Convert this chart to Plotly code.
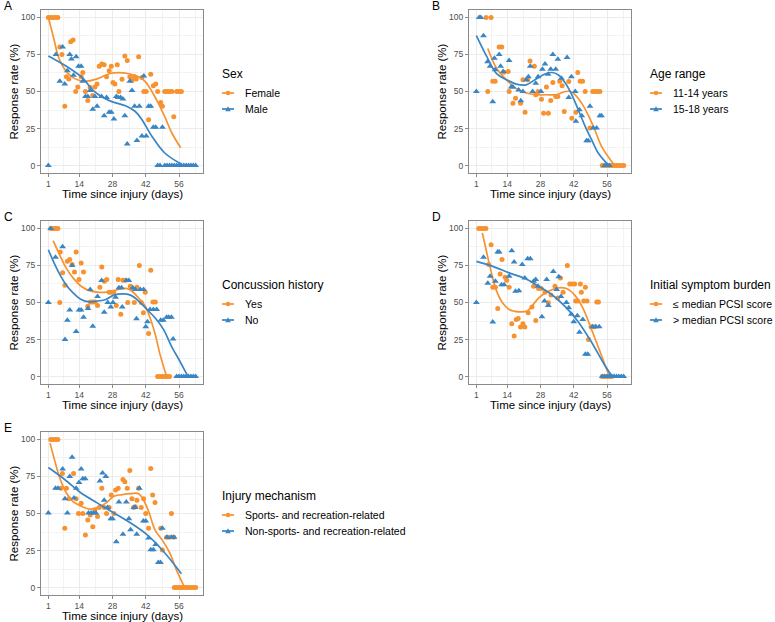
import plotly.graph_objects as go

W, H = 775, 622
ORANGE = '#F7922F'
BLUE = '#3A85C4'
FONT = 'Liberation Sans, Arial, sans-serif'

# ---------------- Panel A: Sex ----------------
a_female_day = [1,2,3,4,5,5.8,6.7,7.9,8.6,9.6,10.4,11.4,12.5,13.4,14.8,15.5,16.6,17.6,18.6,19.7,20.6,21.5,22.4,23.5,24.5,25.5,26.6,27.5,28.2,29,30,30.7,32,33.2,34.2,35.3,36.2,37.3,38,39,40.4,41.2,42.2,43.2,44.1,45.2,46.2,47,48.3,49,50,51,52,53,53.8,55,56,57]
a_female_rate = [100,100,100,100,100,80,75,40,60,58.5,83.6,84.7,50,53,60,62.8,50,44,52.7,47.3,53,55,67,68.6,68,60,64,67,56,55,68,50,58.3,74,71,60,57.4,60,58.5,73.5,59.4,50,50,31,61.7,53.8,55,50,42.6,40,50,50,50,50,33,50,50,50]
a_male_day = [1,4.2,5.8,7,7.9,9,10,10.7,11.6,12.7,13.7,14.8,15.5,16.6,17.6,18.6,19.7,20.6,21.5,23.4,24.5,25.5,26.6,27.5,28.6,29.6,30.4,31.4,32.4,33.2,34.2,35.3,36.2,37.3,38.3,39.3,40.4,41.2,42.2,43.2,44.1,45.2,46.2,47,48,49,50,51,52,53,54,55,56,57,58,59,60,61,62,63]
a_male_rate = [0,75,57,80,55,64,75,72,61,73.5,67,67,57,46.6,46.6,50.7,38,46.6,40,46.6,33.6,46,36,36,31.4,46.6,46,46,45,33.6,14.6,57,50.7,40,17,40,20,60.5,20,40,40,25.8,25.8,0,0,25.8,0,0,0,0,0,0,0,0,0,0,0,0,0,0]
a_female_fit_day = [1,3.1,5.8,10,14.1,18.3,22.4,26.6,30.7,34.9,39,41.8,44.6,47.3,50,53,56.7]
a_female_fit_rate = [100,87,71,61,57.4,57.2,59,62,62.8,62,60,56.7,50,42,33,22,12]
a_male_fit_day = [1,8.6,15.5,19.7,24,28,33.5,37.6,40.4,44.5,50,57]
a_male_fit_rate = [74,67,59,51,46,43,40.4,36.5,31,20,8.5,1]

# ---------------- Panel B: Age range ----------------
b_young_day = [5.1,5.8,7.2,7.9,8.9,10.6,11.7,12.6,14.4,14.8,16.4,17.5,19.6,20.6,21.5,22.6,23.6,25.4,26,27,28.4,29.3,30.5,31.3,32.3,33.2,34.4,35.3,36.1,37.1,38,39.9,41.2,42.9,43.7,44.7,45.7,46.8,48.8,50,51,52,53,54,55,56,57,58,59,60,61,62,63]
b_young_rate = [100,50,100,57,57,80,80,63,63.5,50,42,45.5,42,58,36,58,70.6,67,47.8,50,44.8,35.4,53,35.4,44,56,46.6,46.6,57,53.8,36.5,56.7,32,36,62.8,57,57,50,25.3,50,50,50,50,0,0,0,0,0,0,0,0,0,0]
b_old_day = [1,2.2,2.9,4,5.7,6.8,7.9,8.6,8.9,10.6,11.2,12.3,14.8,15.7,16.4,18.8,19.7,20.6,22,22.9,23.7,24.7,26,27,28.2,28.8,29.9,31.2,32.3,33.2,34.4,35.3,36.8,39.2,39.9,41,42.6,42.9,44.4,45.4,47.4,48.1,48.8,50.2,51.6,53,53.7,55,56,57]
b_old_rate = [50,100,100,87.7,70,67,43,72.4,64.6,75,67,63.5,71,53,53,51,43.7,50,58,60,67,50,55.6,60,50,65,68.6,61.7,65,75,65,71.7,59,73,46,60,50,30,37.7,33.6,16.8,16.8,40,25.3,25.3,33.6,33.6,0,0,0]
b_young_fit_day = [5.8,9.5,13.7,17.8,22,26,30.2,34.4,38.5,40.6,42.6,45.4,48.1,50.9,53.7,59.2]
b_young_fit_rate = [79,65.7,57.8,52,49,47.8,47.8,47.8,50,50,47.8,42,34,24,13,0]
b_old_fit_day = [1,5.4,9.5,13.7,17.8,22,26,30.2,33,35.7,38.5,41.2,43.9,46.8,49.5,52.3,56.8]
b_old_fit_rate = [87.7,73.5,62,58,55,54.5,58.3,62,62.8,61,55.6,47.8,37.7,26.5,17.5,8.5,0]

# ---------------- Panel C: Concussion history ----------------
c_yes_day = [2,3,4,5,5.8,6,7,8,9,10,11,12,12.7,13.9,14.8,15.8,17.6,18.7,19.7,20.6,21.7,22.7,23.5,24.6,25.6,26.6,27.7,28.5,29.6,30.4,31.5,32.4,33.5,34.4,35.5,36.2,37.2,38.3,39.3,40.1,41,41.8,43.2,44.1,45,46,47,48,49,50,51,52]
c_yes_rate = [100,100,100,100,50,84,70,61.7,77.8,79,75.6,70.6,84,65.5,76.7,70.6,47.5,50.4,50.4,50.4,48,60.3,74,64.3,65.5,57,57,57,48,65.5,42,65,65,50,61,60,50,60.3,75,50,43,57,29,71.7,50.4,50.4,0,0,0,0,0,0]
c_no_day = [1,2,4,7,8,9,10,11,12.7,13.9,14.8,15.8,17.7,18.6,19.7,21.7,23.4,24.5,26,27.3,28.2,29.3,30.7,31.8,32.1,33.8,34.9,36.5,37.6,38.1,39.7,41.1,42,42.7,43.8,45.2,46.6,48.3,49.4,50.8,51.7,52.8,53.5,55,56,57,58,59,60,61,62,63]
c_no_rate = [50,100,80.5,87.7,25,38,45,75,30.5,45,45,40,46,58.7,34,54,64.8,43.5,50,47,50,53.6,60,60,47,64.8,64.8,60,58.7,39,58.7,58.7,33.6,37,45.3,45.3,45.3,38,38,40,40,40,25.3,0,0,0,0,0,0,0,0,0]
c_yes_fit_day = [3,5.8,8.6,11.4,14.8,18.3,21.7,25.2,28.6,32.1,34.2,36.2,39,41.8,43.8,46,48,50.8]
c_yes_fit_rate = [91.7,82,73,66.6,61,58,57,57,58,59.4,59.4,57.6,53,47.5,39.7,28.5,15,0]
c_no_fit_day = [1,4.5,8,11.4,14.8,18.3,21.7,25.2,28.6,32.1,35.6,39,42.5,45.9,49.4,52.8,56.3,59.5]
c_no_fit_rate = [85.6,73,63,56.5,52,50.4,51,52,55,55.8,55,51,45.3,39.7,32,20.6,10.5,1]

# ---------------- Panel D: Initial symptom burden ----------------
d_low_day = [2,3,4,5,6.2,7.2,7.9,9,10,11,11.8,13.1,13.8,14.8,15.9,16.9,17.8,18.6,19.6,20.6,21.4,22.8,24.4,25.1,26,27.2,28.3,29.9,31.3,32.4,34.1,35.2,36.4,37.5,39.3,40.3,41.2,42.4,42.8,43.7,44.8,45.2,46.2,46.9,47.6,48.2,49.3,50.7,51.7,52.4,54,55,56,57,58]
d_low_rate = [100,100,100,100,75.6,89,60.3,60.3,46,69.3,79,67,65,60.3,35.7,27.4,38.6,39.2,33.4,35.6,33.4,43,46.9,61,37.9,59.4,59.4,57,49.8,55,61,53,66.6,57,75,62.5,62.5,62.5,51,51,62.5,57,51,60.3,51,25,33.6,33.6,50.4,50.4,0,0,0,0,0]
d_high_day = [1,4,5.8,6.8,7.9,9,10,10.6,11.6,12.7,14.8,15.9,16.9,17.5,18.9,20.3,21.4,22.6,23.7,25.1,26,27,28.6,29.7,30.6,31.3,33.4,34.8,35.7,36.6,38.9,39.9,41,42,43.5,44.4,45.8,46.9,47.9,49.9,51.3,52.7,54,55,56,57,58,59,60,61,62,63]
d_high_rate = [50,80.5,63,67.7,36.8,64.3,84,84,62,62,67.7,85,77.4,57.6,58,75.6,66.6,79.6,79.6,64.3,65.5,61,40.4,51,65.5,48,71,58.7,67.3,54,50,46.4,42,37,41,30,38.6,15,15,33.6,33.6,33.6,0,0,0,0,0,0,0,0,0,0]
d_low_fit_day = [3.5,5.1,7.2,9.3,12,14.8,18.9,22.4,24.4,27.2,31.3,35.5,38.9,42.4,45.8,49.2,52.7,56.1,57]
d_low_fit_rate = [97,85.6,71,58.7,49.8,45.3,43.7,44.2,47.5,53,57.6,59.9,59.4,55,46.4,33,18.4,3.8,0]
d_high_fit_day = [1,7.9,14.8,21.7,27.2,32.7,38.2,43.7,49.2,54.8,58.2]
d_high_fit_rate = [77.8,74.4,70,66,61,55.4,47.5,37.4,24,8.3,0]

# ---------------- Panel E: Injury mechanism ----------------
e_sport_day = [2,3,4,5,6.3,6.9,7.9,8.6,9.7,11.6,12.7,13.7,14.8,15.5,16.6,17.6,18.6,19.7,20.6,21.7,22.4,23.5,24.5,25.5,26.6,27.5,28.6,29.3,30.4,32.4,33.2,34.2,35.3,36.2,36.9,37.6,38.3,39,40.1,41.1,42,43.2,44.1,44.9,45.9,48.3,49,50.8,51.9,52.8,53.8,54,55,56,57,58,59,60,61,62,63]
e_sport_rate = [100,100,100,100,67,77,40,67,60,77,60,50,57,50,35.5,45.6,49,41,52.4,48,54,67,54,50,54,62.5,50,65.8,67,73,71.5,67,79,60,54,54.6,59,67,54,60,50,40,80.4,62.5,57.5,40,25.4,34,34,50,34,0,0,0,0,0,0,0,0,0,0]
e_other_day = [1,4,5.1,7,8,9,10,11,11.8,12.7,13.9,14.8,15.5,16.5,17.9,19,20,21,22.7,23.8,24.5,25.2,25.9,27.3,28,29.6,30.7,32.4,33.8,34.9,35.6,37,37.6,38.2,39.3,41,42,43.2,44.1,45.2,46.2,47.3,48.2,49,51,52.8,53.9]
e_other_rate = [50.3,67,67,80,60,50.3,75,88,60.4,67,71,80,73.5,73.5,50.3,50.3,50.3,50.3,72,77.3,59,75,54,46.5,46.5,31,57.7,36,57.7,46.5,39,54,54,36,67,45,45,33.5,25.6,25.6,29,17,17,40,34,34,34]
e_sport_fit_day = [1.7,3.8,5.8,8.6,11.4,14.8,18.3,21.7,25.2,28.6,32.1,35.6,39,41,43.2,45.9,49.4,52.1,54.9,58.4]
e_sport_fit_rate = [97.5,85,74,63.8,58,55,53,54,57,61.6,62.7,63.4,63.4,59.3,51.5,39,31,23.4,12,0]
e_other_fit_day = [1,8,14.8,21.7,28.6,35.6,42.5,49.4,57]
e_other_fit_rate = [81,72.8,63.8,57,50.3,43.6,35.7,24.5,9.4]

x_ticks = [1, 14, 28, 42, 56]
y_ticks = [0, 25, 50, 75, 100]

panels = [
    dict(label='A', box=(41, 203, 10, 173), title='Sex',
         s1=('Female', a_female_day, a_female_rate, a_female_fit_day, a_female_fit_rate),
         s2=('Male', a_male_day, a_male_rate, a_male_fit_day, a_male_fit_rate)),
    dict(label='B', box=(469, 631, 10, 173), title='Age range',
         s1=('11-14 years', b_young_day, b_young_rate, b_young_fit_day, b_young_fit_rate),
         s2=('15-18 years', b_old_day, b_old_rate, b_old_fit_day, b_old_fit_rate)),
    dict(label='C', box=(41, 203, 221, 384), title='Concussion history',
         s1=('Yes', c_yes_day, c_yes_rate, c_yes_fit_day, c_yes_fit_rate),
         s2=('No', c_no_day, c_no_rate, c_no_fit_day, c_no_fit_rate)),
    dict(label='D', box=(469, 631, 221, 384), title='Initial symptom burden',
         s1=('≤ median PCSI score', d_low_day, d_low_rate, d_low_fit_day, d_low_fit_rate),
         s2=('> median PCSI score', d_high_day, d_high_rate, d_high_fit_day, d_high_fit_rate)),
    dict(label='E', box=(41, 203, 432, 595), title='Injury mechanism',
         s1=('Sports- and recreation-related', e_sport_day, e_sport_rate, e_sport_fit_day, e_sport_fit_rate),
         s2=('Non-sports- and recreation-related', e_other_day, e_other_rate, e_other_fit_day, e_other_fit_rate)),
]

fig = go.Figure()
annotations = []
shapes = []
layout = dict(
    width=W, height=H, margin=dict(l=0, r=0, t=0, b=0),
    paper_bgcolor='white', plot_bgcolor='white',
    font=dict(family=FONT, color='black'),
    showlegend=False,
)


def px_x(v):
    return v / W


def px_y(v):
    return 1 - v / H


for i, p in enumerate(panels):
    n = '' if i == 0 else str(i + 1)
    xa, ya = 'x' + n, 'y' + n
    l, r, t, b = p['box']
    axis_common = dict(
        showline=True, mirror=True, linecolor='#8A8A8A', linewidth=1,
        ticks='outside', ticklen=3, tickcolor='#8A8A8A', tickwidth=1,
        tickfont=dict(size=8.5, color='#4D4D4D', family=FONT),
        showgrid=True, gridcolor='#EBEBEB', gridwidth=1, zeroline=False,
        tickmode='array',
    )
    layout['xaxis' + n] = dict(axis_common, domain=[px_x(l), px_x(r)], anchor=ya,
                               range=[-2.1, 66.1], tickvals=x_ticks,
                               minor=dict(tickvals=[7.5, 21, 35, 49, 63], showgrid=True,
                                          gridcolor='#F3F3F3', gridwidth=0.6, ticklen=0))
    layout['yaxis' + n] = dict(axis_common, domain=[px_y(b), px_y(t)], anchor=xa,
                               range=[-5, 105], tickvals=y_ticks,
                               minor=dict(tickvals=[12.5, 37.5, 62.5, 87.5], showgrid=True,
                                          gridcolor='#F3F3F3', gridwidth=0.6, ticklen=0))
    series = [(p['s1'], ORANGE, 'circle', 5), (p['s2'], BLUE, 'triangle-up', 6)]
    for (name, dx, dy, fx, fy), col, sym, msz in series:
        fig.add_trace(go.Scatter(x=dx, y=dy, mode='markers', xaxis=xa, yaxis=ya, name=name,
                                 marker=dict(color=col, size=msz, symbol=sym, line=dict(width=0)),
                                 showlegend=False, hoverinfo='skip'))
        fig.add_trace(go.Scatter(x=fx, y=fy, mode='lines', xaxis=xa, yaxis=ya, name=name,
                                 line=dict(color=col, width=1.7, shape='spline', smoothing=1.0),
                                 showlegend=False, hoverinfo='skip'))

    # ---- legend (drawn as title + keys + labels, ggplot style) ----
    annotations.append(dict(text=p['title'], x=px_x(r + 17), y=px_y(t + 64), xref='paper', yref='paper',
                            xanchor='left', yanchor='middle', showarrow=False,
                            font=dict(size=12, family=FONT, color='black')))
    for k, ((name, *_), col, sym, msz) in enumerate(series):
        yk = t + 83 + 16 * k
        shapes.append(dict(type='line', xref='paper', yref='paper',
                           x0=px_x(r + 19), x1=px_x(r + 31), y0=px_y(yk), y1=px_y(yk),
                           line=dict(color=col, width=1.7)))
        cx = r + 25
        if sym == 'circle':
            shapes.append(dict(type='circle', xref='paper', yref='paper',
                               x0=px_x(cx - 2.3), x1=px_x(cx + 2.3), y0=px_y(yk + 2.3), y1=px_y(yk - 2.3),
                               fillcolor=col, line=dict(width=0)))
        else:
            path = 'M {:.5f},{:.5f} L {:.5f},{:.5f} L {:.5f},{:.5f} Z'.format(
                px_x(cx - 2.8), px_y(yk + 2.2), px_x(cx + 2.8), px_y(yk + 2.2), px_x(cx), px_y(yk - 2.8))
            shapes.append(dict(type='path', xref='paper', yref='paper', path=path,
                               fillcolor=col, line=dict(width=0)))
        annotations.append(dict(text=name, x=px_x(r + 40), y=px_y(yk), xref='paper', yref='paper',
                                xanchor='left', yanchor='middle', showarrow=False,
                                font=dict(size=10.5, family=FONT, color='black')))

    # panel label
    annotations.append(dict(text=p['label'], x=px_x(l - 39), y=px_y(t - 4), xref='paper', yref='paper',
                            xanchor='left', yanchor='middle', showarrow=False,
                            font=dict(size=12, family=FONT, color='black')))
    # x title
    annotations.append(dict(text='Time since injury (days)', x=px_x((l + r) / 2), y=px_y(b + 21),
                            xref='paper', yref='paper', xanchor='center', yanchor='middle',
                            showarrow=False, font=dict(size=11.5, family=FONT, color='black')))
    # y title
    annotations.append(dict(text='Response rate (%)', x=px_x(l - 28), y=px_y((t + b) / 2),
                            xref='paper', yref='paper', xanchor='center', yanchor='middle',
                            textangle=-90, showarrow=False,
                            font=dict(size=11.5, family=FONT, color='black')))

layout['annotations'] = annotations
layout['shapes'] = shapes
fig.update_layout(**layout)
fig.write_html('out.html', config={'displayModeBar': False},
               post_script="document.body.style.margin='0px';")
